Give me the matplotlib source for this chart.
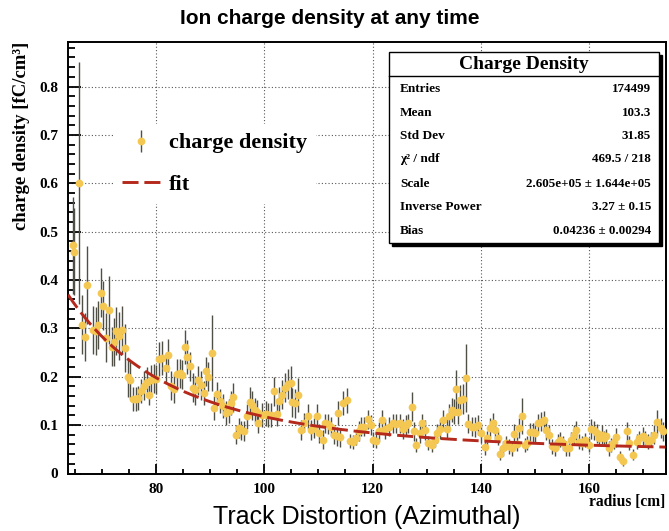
import numpy as np
import matplotlib

matplotlib.use("Agg")
import matplotlib.pyplot as plt
from matplotlib.patches import Rectangle
from matplotlib.lines import Line2D

# binned charge density (radius in cm, density in fC/cm^3)
radius = [
    64.6, 64.8, 65.7, 66.3, 66.9, 67.3, 68.4, 68.9, 69.3, 69.8, 70.3, 70.8, 71.3, 71.8,
    72.2, 72.7, 73.2, 73.7, 74.3, 74.8, 75.3, 75.8, 76.3, 76.7, 77.3, 77.8, 78.3, 78.7,
    79.1, 79.6, 80.1, 80.6, 81.2, 81.8, 82.3, 82.8, 83.3, 83.8, 84.4, 84.9, 85.3, 85.8,
    86.3, 86.8, 87.3, 87.8, 88.3, 88.8, 89.3, 89.7, 90.3, 90.8, 91.3, 91.8, 92.3, 92.9,
    93.4, 93.9, 94.3, 94.8, 95.4, 95.8, 96.3, 96.9, 97.4, 97.8, 98.3, 98.7, 98.9, 99.5,
    100.3, 100.7, 101.3, 101.8, 102.3, 102.8, 103.2, 103.8, 104.4, 104.9, 105.2, 105.7,
    106.3, 106.8, 107.3, 108.0, 108.6, 109.1, 109.7, 110.2, 110.8, 111.2, 111.7, 112.3,
    112.9, 113.4, 113.7, 114.0, 114.6, 115.2, 115.8, 116.4, 116.9, 117.5, 117.9, 118.5,
    119.2, 119.7, 120.1, 120.7, 121.2, 121.7, 122.3, 123.1, 123.8, 124.4, 125.0, 125.7,
    126.2, 126.6, 127.2, 127.6, 128.1, 128.7, 129.2, 129.6, 130.3, 130.9, 131.5, 131.9,
    132.4, 133.0, 133.7, 134.1, 134.6, 135.0, 135.4, 135.8, 136.2, 136.7, 137.2, 137.7,
    138.3, 138.9, 139.5, 140.1, 140.7, 141.2, 141.7, 142.2, 142.6, 143.2, 143.5, 144.0,
    144.6, 145.2, 145.7, 146.1, 146.6, 147.1, 147.6, 148.1, 148.6, 149.1, 149.6, 150.0,
    150.6, 151.2, 151.7, 152.1, 152.6, 153.1, 153.7, 154.3, 154.7, 155.2, 155.8, 156.3,
    156.7, 157.2, 157.6, 158.1, 158.7, 159.3, 159.9, 160.4, 160.9, 161.4, 161.9, 162.3,
    162.8, 163.2, 163.7, 164.1, 164.6, 165.0, 165.7, 166.3, 166.9, 167.4, 168.1, 168.8,
    169.2, 169.9, 170.3, 170.9, 171.5, 172.0, 172.6, 173.2, 173.7,
]
density = [
    0.472, 0.458, 0.600, 0.308, 0.282, 0.390, 0.297, 0.294, 0.307, 0.374, 0.347, 0.281, 0.338, 0.262,
    0.272, 0.295, 0.284, 0.297, 0.260, 0.199, 0.193, 0.154, 0.154, 0.156, 0.170, 0.181, 0.190, 0.162,
    0.194, 0.196, 0.195, 0.236, 0.238, 0.218, 0.244, 0.181, 0.175, 0.206, 0.207, 0.204, 0.262, 0.240,
    0.222, 0.177, 0.172, 0.193, 0.182, 0.166, 0.211, 0.200, 0.249, 0.135, 0.165, 0.150, 0.140, 0.125,
    0.130, 0.145, 0.158, 0.080, 0.094, 0.089, 0.088, 0.118, 0.148, 0.141, 0.132, 0.127, 0.104, 0.121,
    0.124, 0.121, 0.121, 0.170, 0.124, 0.149, 0.163, 0.177, 0.185, 0.188, 0.147, 0.145,
    0.163, 0.090, 0.105, 0.118, 0.090, 0.094, 0.119, 0.083, 0.070, 0.104, 0.102, 0.097,
    0.080, 0.077, 0.125, 0.075, 0.146, 0.151, 0.067, 0.065, 0.073, 0.088, 0.097, 0.097,
    0.112, 0.100, 0.070, 0.068, 0.087, 0.111, 0.092, 0.097, 0.104, 0.103, 0.104, 0.092,
    0.100, 0.104, 0.138, 0.087, 0.059, 0.083, 0.104, 0.090, 0.063, 0.059, 0.070, 0.083,
    0.092, 0.111, 0.092, 0.118, 0.132, 0.128, 0.174, 0.128, 0.152, 0.154, 0.197, 0.103,
    0.097, 0.096, 0.100, 0.083, 0.054, 0.073, 0.094, 0.105, 0.090, 0.073, 0.040, 0.052,
    0.063, 0.056, 0.052, 0.082, 0.061, 0.094, 0.119, 0.059, 0.063, 0.085, 0.085, 0.083,
    0.104, 0.107, 0.110, 0.090, 0.080, 0.056, 0.052, 0.066, 0.070, 0.063, 0.052, 0.052,
    0.070, 0.080, 0.089, 0.066, 0.063, 0.069, 0.059, 0.092, 0.089, 0.083, 0.073, 0.080,
    0.073, 0.077, 0.052, 0.059, 0.065, 0.075, 0.035, 0.025, 0.087, 0.063, 0.039, 0.066,
    0.073, 0.077, 0.073, 0.066, 0.070, 0.080, 0.107, 0.094, 0.087,
]
density_err = [
    0.100, 0.090, 0.250, 0.060, 0.050, 0.080, 0.050, 0.050, 0.050, 0.050, 0.050, 0.050, 0.070, 0.040,
    0.050, 0.050, 0.050, 0.050, 0.050, 0.040, 0.040, 0.025, 0.025, 0.025, 0.025, 0.030, 0.030, 0.020,
    0.030, 0.030, 0.030, 0.035, 0.035, 0.030, 0.035, 0.030, 0.030, 0.030, 0.030, 0.030, 0.035, 0.035,
    0.030, 0.030, 0.030, 0.030, 0.030, 0.025, 0.030, 0.030, 0.078, 0.025, 0.025, 0.025, 0.025, 0.025,
    0.025, 0.025, 0.030, 0.020, 0.020, 0.020, 0.020, 0.025, 0.030, 0.030, 0.025, 0.025, 0.020, 0.025,
    0.025, 0.025, 0.025, 0.030, 0.025, 0.030, 0.030, 0.030, 0.030, 0.035, 0.030, 0.030,
    0.035, 0.020, 0.020, 0.025, 0.020, 0.020, 0.025, 0.020, 0.020, 0.020, 0.020, 0.020,
    0.020, 0.020, 0.025, 0.020, 0.025, 0.025, 0.015, 0.015, 0.015, 0.020, 0.020, 0.020,
    0.020, 0.020, 0.015, 0.015, 0.020, 0.020, 0.020, 0.020, 0.020, 0.020, 0.020, 0.020,
    0.020, 0.020, 0.030, 0.020, 0.015, 0.020, 0.020, 0.020, 0.015, 0.015, 0.015, 0.020,
    0.020, 0.020, 0.020, 0.025, 0.025, 0.025, 0.040, 0.025, 0.030, 0.030, 0.070, 0.020,
    0.020, 0.020, 0.020, 0.020, 0.015, 0.015, 0.020, 0.020, 0.020, 0.015, 0.012, 0.015,
    0.015, 0.015, 0.015, 0.020, 0.015, 0.020, 0.037, 0.015, 0.015, 0.020, 0.020, 0.020,
    0.020, 0.020, 0.020, 0.020, 0.020, 0.015, 0.015, 0.015, 0.015, 0.015, 0.015, 0.015,
    0.015, 0.020, 0.020, 0.015, 0.015, 0.015, 0.015, 0.020, 0.020, 0.020, 0.015, 0.020,
    0.015, 0.015, 0.015, 0.015, 0.015, 0.020, 0.012, 0.010, 0.020, 0.015, 0.012, 0.015,
    0.015, 0.020, 0.015, 0.015, 0.015, 0.020, 0.025, 0.020, 0.020,
]

# fit parameters from the stats box: Scale * r^-Power + Bias
fit_scale = 2.605e5
fit_power = 3.27
fit_bias = 0.04236

stat_labels = ["Entries", "Mean", "Std Dev", "\u03c7\u00b2 / ndf", "Scale",
               "Inverse Power", "Bias"]
stat_values = ["174499", "103.3", "31.85", "469.5 / 218",
               "2.605e+05 \u00b1 1.644e+05", "3.27 \u00b1 0.15",
               "0.04236 \u00b1 0.00294"]

W, H = 669, 531
SERIF = "Liberation Serif"
SANS = "Liberation Sans"

fig = plt.figure(figsize=(W / 100, H / 100), dpi=100)
ax = fig.add_axes([68 / W, 1 - 473.5 / H, (665.5 - 68) / W, (473.5 - 42) / H])

xmin, xmax = 63.76, 174.1
ax.set_xlim(xmin, xmax)
ax.set_ylim(0, 0.892)

data_h = ax.errorbar(radius, density, yerr=density_err, fmt="o", ms=5.6, mfc="#f4c752",
                     mec="none", ecolor="#4f4f45", elinewidth=1.0, capsize=0, zorder=3)

r_fit = np.linspace(xmin, xmax, 400)
fit_h, = ax.plot(r_fit, fit_scale * r_fit ** (-fit_power) + fit_bias, color="#b5281c",
                 lw=2.1, dashes=(5.5, 2), zorder=4)

# ROOT-like axes
ax.set_xticks([80, 100, 120, 140, 160])
ax.set_xticks(np.arange(65, 175, 5), minor=True)
ax.set_yticks(np.arange(0, 0.81, 0.1))
ax.set_yticks(np.arange(0, 0.89, 0.02), minor=True)
ax.set_yticklabels(["0"] + [f"{v:.1f}" for v in np.arange(0.1, 0.81, 0.1)])
ax.tick_params(axis="both", which="both", direction="in", top=False, right=False,
               width=1.3, color="black")
ax.tick_params(axis="y", which="major", length=9.5, pad=7)
ax.tick_params(axis="y", which="minor", length=5)
ax.tick_params(axis="x", which="major", length=7, pad=7)
ax.tick_params(axis="x", which="minor", length=3.5)
for lab in ax.get_xticklabels() + ax.get_yticklabels():
    lab.set_fontfamily(SERIF)
    lab.set_fontweight("bold")
    lab.set_fontsize(11)
for sp in ax.spines.values():
    sp.set_linewidth(1.4)
ax.grid(True, which="major", color="#555555", lw=0.8, ls=(0, (1, 2)), zorder=0)
ax.set_axisbelow(True)

leg = ax.legend([data_h, fit_h], ["charge density", "fit"], loc="upper left",
                bbox_to_anchor=(113 / W, 1 - 124 / H), bbox_transform=fig.transFigure,
                frameon=True, fancybox=False, facecolor="white", edgecolor="none",
                framealpha=1, prop={"family": SERIF, "weight": "bold", "size": 16},
                handlelength=1.7, handletextpad=0.4, labelspacing=0.95,
                borderpad=0.4, borderaxespad=0)
leg.set_zorder(5)

fig.text(22 / W, 1 - 42 / H, "charge density [fC/cm\u00b3]", rotation=90,
         ha="center", va="top", family=SERIF, weight="bold", fontsize=13.5)
fig.text(665 / W, 1 - 502 / H, "radius [cm]", ha="right", va="center",
         family=SERIF, weight="bold", fontsize=11.2)
fig.text(330 / W, 1 - 18 / H, "Ion charge density at any time", ha="center",
         va="center", family=SANS, weight="bold", fontsize=15)
fig.text(367 / W, 1 - 517 / H, "Track Distortion (Azimuthal)", ha="center",
         va="center", family=SANS, fontsize=18)

# stats box with drop shadow
bx0, by0, bx1, by1 = 389, 52, 659, 243
bw, bh = (bx1 - bx0) / W, (by1 - by0) / H
fig.patches.append(Rectangle(((bx0 + 3) / W, 1 - (by1 + 3) / H), bw, bh,
                             transform=fig.transFigure, facecolor="black",
                             edgecolor="black", zorder=6))
fig.patches.append(Rectangle((bx0 / W, 1 - by1 / H), bw, bh, transform=fig.transFigure,
                             facecolor="white", edgecolor="black", lw=1.0, zorder=7))
fig.lines.append(Line2D([bx0 / W, bx1 / W], [1 - 76 / H, 1 - 76 / H],
                        transform=fig.transFigure, color="black", lw=1.0, zorder=8))
fig.text((bx0 + bx1) / 2 / W, 1 - 64.5 / H, "Charge Density", ha="center", va="center",
         family=SERIF, weight="bold", fontsize=14, zorder=9)
row_y = [89, 113, 136, 159, 184, 207, 231]
for lab, val, yy in zip(stat_labels, stat_values, row_y):
    fig.text(400 / W, 1 - yy / H, lab, ha="left", va="center", family=SERIF,
             weight="bold", fontsize=9.5, zorder=9)
    fig.text(651 / W, 1 - yy / H, val, ha="right", va="center", family=SERIF,
             weight="bold", fontsize=9.4, zorder=9)

fig.savefig("out.png", dpi=100)
